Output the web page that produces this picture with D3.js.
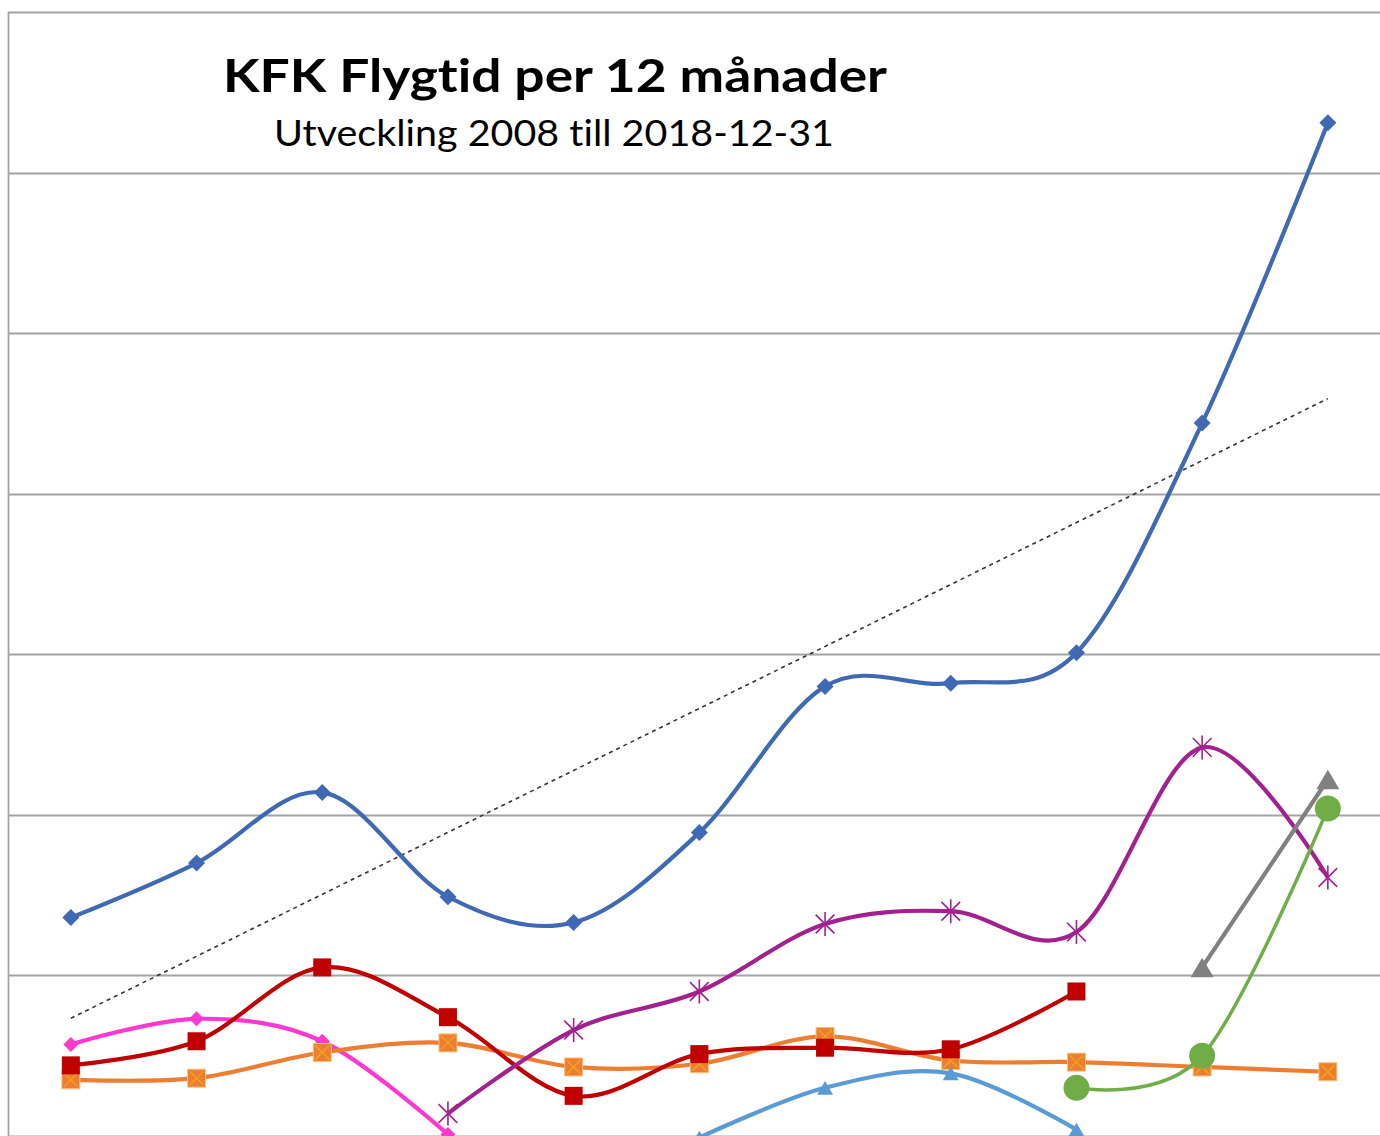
<!DOCTYPE html>
<html>
<head>
<meta charset="utf-8">
<script src="https://cdn.jsdelivr.net/npm/d3@7"></script>
<style>
  body { margin: 0; background: #fff; }
  svg { display: block; }
  text { font-variant-ligatures: none; }
</style>
</head>
<body>
<script>
// values (hours, estimated)
var years = ['2008', '2009', '2010', '2011', '2012', '2013', '2014', '2015', '2016', '2017', '2018'];
var gridTicks = [100, 200, 300, 400, 500, 600, 700, 800];

var blueVals = [236, 270, 314, 249, 233, 289, 380, 382, 401, 544, 731];
var pinkVals = [157, 173, 159, 101, null, null, null, null, null, null, null];
var orangeVals = [135, 136, 152, 158, 143, 145, 162, 147, 146, 143, 140];
var redVals = [144, 159, 205, 174, 125, 151, 155, 154, 190, null, null];
var purpleVals = [null, null, null, 114, 166, 190, 232, 240, 227, 342, 261];
var lightBlueVals = [null, null, null, null, null, 99, 130, 139, 104, null, null];
var greenVals = [null, null, null, null, null, null, null, null, 130, 150, 304];
var grayVals = [null, null, null, null, null, null, null, null, null, 205, 322];

var titleText = 'KFK Flygtid per 12 månader';
var subText = 'Utveckling 2008 till 2018-12-31';

var width = 1380,
  height = 1136,
  plotLeft = 8,
  plotTop = 12,
  band = 125.7;

var svg = d3.select('body')
  .append('svg')
  .attr('width', width)
  .attr('height', height);

var xScale = d3.scalePoint()
  .domain(years)
  .range([plotLeft + band / 2, plotLeft + band * 10.5]);

var yScale = d3.scaleLinear()
  .domain([100, 800])
  .range([1136, plotTop]);

// gridlines
svg.append('g')
  .selectAll('line')
  .data(gridTicks)
  .enter()
  .append('line')
  .attr('x1', plotLeft)
  .attr('x2', width + 20)
  .attr('y1', d => Math.round(yScale(d)) + 0.5)
  .attr('y2', d => Math.round(yScale(d)) + 0.5)
  .attr('stroke', '#a3a3a3')
  .attr('stroke-width', 1.8);

// frame left edge
svg.append('line')
  .attr('x1', plotLeft + 0.5).attr('x2', plotLeft + 0.5)
  .attr('y1', plotTop).attr('y2', height + 10)
  .attr('stroke', '#a3a3a3')
  .attr('stroke-width', 1.8);

// title
svg.append('text')
  .attr('x', 555)
  .attr('y', 92)
  .attr('text-anchor', 'middle')
  .attr('font-family', 'Lato, "Open Sans", sans-serif')
  .attr('font-weight', 'bold')
  .attr('font-size', 45)
  .attr('textLength', 664)
  .attr('lengthAdjust', 'spacingAndGlyphs')
  .attr('fill', '#000')
  .text(titleText);

svg.append('text')
  .attr('x', 554)
  .attr('y', 146)
  .attr('text-anchor', 'middle')
  .attr('font-family', 'Lato, "Open Sans", sans-serif')
  .attr('font-size', 37)
  .attr('textLength', 560)
  .attr('lengthAdjust', 'spacingAndGlyphs')
  .attr('fill', '#000')
  .text(subText);

var line = d3.line()
  .defined(d => d != null)
  .x((d, i) => xScale(years[i]))
  .y(d => yScale(d))
  .curve(d3.curveCardinal.tension(0));

// trend line for the blue series (least squares)
var pts = blueVals.map((v, i) => [i, v]);
var mx = d3.mean(pts, p => p[0]);
var my = d3.mean(pts, p => p[1]);
var slope = d3.sum(pts, p => (p[0] - mx) * (p[1] - my)) / d3.sum(pts, p => (p[0] - mx) * (p[0] - mx));
var icpt = my - slope * mx;

svg.append('line')
  .attr('x1', xScale(years[0]))
  .attr('y1', yScale(icpt))
  .attr('x2', xScale(years[10]))
  .attr('y2', yScale(icpt + slope * 10))
  .attr('stroke', '#333')
  .attr('stroke-width', 1.6)
  .attr('stroke-dasharray', '4,4');

var series = [
  { vals: blueVals, color: '#3f69b3', w: 4.2, marker: 'diamond', size: 17 },
  { vals: pinkVals, color: '#ff38d0', w: 4.2, marker: 'diamond', size: 15 },
  { vals: orangeVals, color: '#ed7d31', w: 4.2, marker: 'xsquare', size: 18 },
  { vals: redVals, color: '#c00000', w: 4.2, marker: 'square', size: 18 },
  { vals: purpleVals, color: '#a3218e', w: 4.2, marker: 'star', size: 24 },
  { vals: lightBlueVals, color: '#5b9bd5', w: 4.2, marker: 'triangle', size: 16 },
  { vals: greenVals, color: '#70ad47', w: 3.5, marker: 'circle', size: 26 },
  { vals: grayVals, color: '#808080', w: 4.2, marker: 'triangle', size: 23 }
];

series.forEach(function (s) {
  var g = svg.append('g');
  g.append('path')
    .attr('d', line(s.vals))
    .attr('fill', 'none')
    .attr('stroke', s.color)
    .attr('stroke-width', s.w)
    .attr('stroke-linejoin', 'round');

  var data = s.vals.map((v, i) => ({ v: v, year: years[i] })).filter(d => d.v != null);
  var m = g.selectAll('g.mk')
    .data(data)
    .enter()
    .append('g')
    .attr('class', 'mk')
    .attr('transform', d => 'translate(' + xScale(d.year) + ',' + yScale(d.v) + ')');

  var r = s.size / 2;
  if (s.marker == 'diamond') {
    m.append('path')
      .attr('d', 'M0,' + (-r) + 'L' + r + ',0L0,' + r + 'L' + (-r) + ',0Z')
      .attr('fill', s.color);
  } else if (s.marker == 'square') {
    m.append('rect')
      .attr('x', -r).attr('y', -r)
      .attr('width', s.size).attr('height', s.size)
      .attr('fill', s.color);
  } else if (s.marker == 'xsquare') {
    m.append('rect')
      .attr('x', -r).attr('y', -r)
      .attr('width', s.size).attr('height', s.size)
      .attr('fill', s.color)
      .attr('stroke', '#f8c37a')
      .attr('stroke-width', 1);
    m.append('path')
      .attr('d', 'M' + (-r + 2) + ',' + (-r + 2) + 'L' + (r - 2) + ',' + (r - 2) + 'M' + (r - 2) + ',' + (-r + 2) + 'L' + (-r + 2) + ',' + (r - 2))
      .attr('stroke', '#f2a91c')
      .attr('stroke-width', 1.2);
  } else if (s.marker == 'star') {
    var a = r * 0.78;
    m.append('path')
      .attr('d', 'M0,' + (-r) + 'L0,' + r + 'M' + (-a) + ',' + (-a) + 'L' + a + ',' + a + 'M' + a + ',' + (-a) + 'L' + (-a) + ',' + a)
      .attr('stroke', s.color)
      .attr('stroke-width', 1.6)
      .attr('fill', 'none');
  } else if (s.marker == 'triangle') {
    var h = s.size * 0.85;
    m.append('path')
      .attr('d', 'M0,' + (-h / 2) + 'L' + r + ',' + (h / 2) + 'L' + (-r) + ',' + (h / 2) + 'Z')
      .attr('fill', s.color);
  } else if (s.marker == 'circle') {
    m.append('circle')
      .attr('r', r)
      .attr('fill', s.color);
  }
});
</script>
</body>
</html>
